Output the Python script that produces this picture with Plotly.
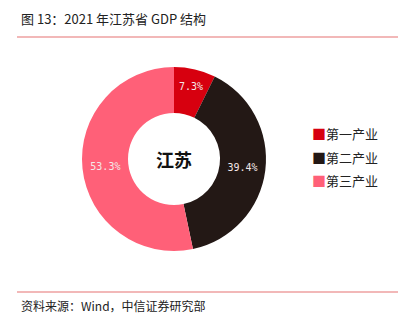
import plotly.graph_objects as go

categories = ["第一产业", "第二产业", "第三产业"]
shares = [7.3, 39.4, 53.3]
colors = ["#d7000f", "#231815", "#ff6078"]
title_text = "图 13：2021 年江苏省 GDP 结构"
source_text = "资料来源：Wind，中信证券研究部"
center_text = "江苏"

W, H = 411, 328
font = "Noto Sans CJK SC"

fig = go.Figure()
fig.add_trace(go.Pie(
    labels=categories, values=shares, sort=False, direction="clockwise", rotation=0,
    hole=0.5, marker=dict(colors=colors, line=dict(width=0)),
    texttemplate="%{value:.1f}%", textposition="inside", insidetextorientation="horizontal",
    textfont=dict(family="DejaVu Sans Mono", size=10, color="#f4e8e8"),
    domain=dict(x=[82/W, 266/W], y=[(H-251)/H, (H-67)/H]),
    hoverinfo="label+percent", showlegend=False,
))

annotations = [
    dict(text=title_text, x=19/W, y=(H-18)/H, xref="paper", yref="paper",
         xanchor="left", yanchor="middle", showarrow=False,
         font=dict(family=font, size=13, color="#222")),
    dict(text=source_text, x=19/W, y=(H-305)/H, xref="paper", yref="paper",
         xanchor="left", yanchor="middle", showarrow=False,
         font=dict(family=font, size=12, color="#222")),
    dict(text="<b>" + center_text + "</b>", x=174/W, y=(H-159)/H, xref="paper", yref="paper",
         xanchor="center", yanchor="middle", showarrow=False,
         font=dict(family=font, size=18, color="#111")),
]
# manual legend
for i, (cat, col) in enumerate(zip(categories, colors)):
    annotations.append(dict(
        text=f"<span style='color:{col};font-size:14px'>■</span>{cat}",
        x=310/W, y=(H-(133 + 23.5*i))/H, xref="paper", yref="paper",
        xanchor="left", yanchor="middle", showarrow=False,
        font=dict(family=font, size=13, color="#222")))

fig.update_layout(
    width=W, height=H, margin=dict(l=0, r=0, t=0, b=0),
    paper_bgcolor="white", plot_bgcolor="white",
    font=dict(family=font, color="#222"),
    shapes=[
        dict(type="line", xref="paper", yref="paper", x0=17/W, x1=398/W,
             y0=(H-37)/H, y1=(H-37)/H, line=dict(color="#e57373", width=1.2)),
        dict(type="line", xref="paper", yref="paper", x0=17/W, x1=398/W,
             y0=(H-292)/H, y1=(H-292)/H, line=dict(color="#e57373", width=1.2)),
    ],
    annotations=annotations,
)

fig.write_html("out.html")
